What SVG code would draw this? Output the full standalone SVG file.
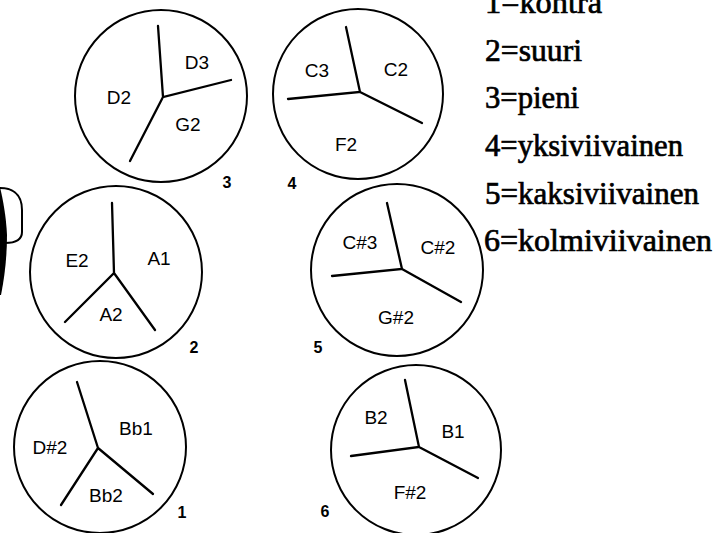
<svg xmlns="http://www.w3.org/2000/svg" width="715" height="533" viewBox="0 0 715 533">
<style>
.c{fill:none;stroke:#000;stroke-width:2}
.s{fill:none;stroke:#000;stroke-width:2.3;stroke-linecap:round}
.t{font-family:"Liberation Sans",Arial,sans-serif;font-size:19px;fill:#000;text-anchor:middle}
.n{font-family:"Liberation Sans",Arial,sans-serif;font-size:16px;font-weight:bold;fill:#000;text-anchor:middle}
.l{font-size:32px;fill:#000;stroke:#000;stroke-width:0.7}
</style>
<rect width="715" height="533" fill="#fff"/>
<g id="fragment">
<path d="M0,187 C3,200 6,215 7,235 C7,255 5,275 1,295 L0,295 Z" fill="#000"/>
<path class="c" d="M0,188 C10,188 22,192 22,210 L22,232 C22,240 16,243 5,243"/>
</g>
<g id="node3">
<circle class="c" cx="161" cy="96" r="86"/>
<text class="t" x="197" y="69">D3</text>
<text class="t" x="119" y="104">D2</text>
<text class="t" x="188" y="131">G2</text>
<text class="n" x="227" y="188">3</text>
</g>
<g id="node4">
<circle class="c" cx="358" cy="94" r="85"/>
<text class="t" x="317" y="77">C3</text>
<text class="t" x="396" y="76">C2</text>
<text class="t" x="346" y="151">F2</text>
<text class="n" x="292" y="189">4</text>
</g>
<g id="node2">
<circle class="c" cx="116" cy="272" r="86"/>
<text class="t" x="77" y="267">E2</text>
<text class="t" x="159" y="265">A1</text>
<text class="t" x="111" y="321">A2</text>
<text class="n" x="194" y="353">2</text>
</g>
<g id="node5">
<circle class="c" cx="397" cy="270" r="86"/>
<text class="t" x="360" y="249">C#3</text>
<text class="t" x="438" y="254">C#2</text>
<text class="t" x="396" y="324">G#2</text>
<text class="n" x="318" y="353">5</text>
</g>
<g id="node1">
<circle class="c" cx="100" cy="447" r="86"/>
<text class="t" x="50" y="454">D#2</text>
<text class="t" x="136" y="435">Bb1</text>
<text class="t" x="106" y="502">Bb2</text>
<text class="n" x="182" y="518">1</text>
</g>
<g id="node6">
<circle class="c" cx="416" cy="450" r="85"/>
<text class="t" x="376" y="424">B2</text>
<text class="t" x="453" y="438">B1</text>
<text class="t" x="410" y="499">F#2</text>
<text class="n" x="325" y="517">6</text>
</g>
<g id="connectors">
<path class="s" d="M158,26 L163,97 L231,80 M163,97 L130,161"/>
<path class="s" d="M346,27 L360,92 L288,99 M360,92 L422,123"/>
<path class="s" d="M112,203 L114,273 L65,322 M114,273 L155,330"/>
<path class="s" d="M387,203 L402,269 L332,276 M402,269 L461,302"/>
<path class="s" d="M77,382 L98,448 L61,505 M98,448 L153,494"/>
<path class="s" d="M405,380 L419,447 L351,456 M419,447 L478,478"/>
</g>
<g id="legend" font-family="Liberation Serif, Times New Roman, serif">
<text class="l" x="485" y="13" textLength="117" lengthAdjust="spacingAndGlyphs">1=kontra</text>
<text class="l" x="485" y="61" textLength="97" lengthAdjust="spacingAndGlyphs">2=suuri</text>
<text class="l" x="485" y="108" textLength="94" lengthAdjust="spacingAndGlyphs">3=pieni</text>
<text class="l" x="485" y="156" textLength="198" lengthAdjust="spacingAndGlyphs">4=yksiviivainen</text>
<text class="l" x="485" y="204" textLength="214" lengthAdjust="spacingAndGlyphs">5=kaksiviivainen</text>
<text class="l" x="484" y="251" textLength="228" lengthAdjust="spacingAndGlyphs">6=kolmiviivainen</text>
</g>
</svg>
